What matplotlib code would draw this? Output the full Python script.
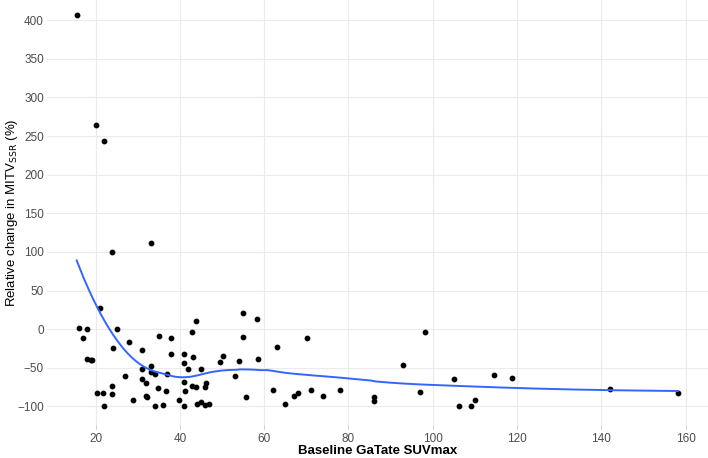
import numpy as np
import matplotlib.pyplot as plt

# Datos
suvmax = [15.5, 20, 22.1, 33.1, 24, 16, 17.1, 18, 18, 19.0, 19.2, 21.0, 25, 24.2,
          20.4, 21.8, 22, 24, 24, 27.9, 27, 28.8, 30.9, 30.9, 30.9, 31.9, 32, 32.2,
          33.05, 33.05, 34, 34.2, 35, 34.9, 35.9, 36.8, 36.9, 38, 37.9, 39.9, 41.0,
          40.9, 41.9, 40.9, 41.3, 41.0, 42.8, 43.9, 43, 42.8, 43.9, 44, 44.9, 44.9,
          45.9, 45.9, 46.3, 46.8, 49.5, 50.2, 53.1, 54, 55.0, 55.0, 55.6, 58.4, 58.5,
          62, 63.1, 65, 67.1, 68, 70.1, 71, 74, 78, 86, 86, 93, 97, 98.1, 105, 106.3,
          109, 110.1, 114.5, 118.9, 142, 158.2]
cambio = [407, 264, 244, 111, 100, 2, -12, 0, -39, -40, -40, 27, 0, -24,
          -82, -82, -99, -74, -84, -17, -61, -92, -27, -51, -64, -70, -86, -88,
          -47, -55, -58, -99, -9, -76, -98, -80, -58, -12, -32, -92, -32,
          -44, -52, -68, -80, -99, -3, 11, -36, -74, -75, -97, -52, -94,
          -98, -75, -70, -97, -43, -35, -60, -41, 21, -10, -88, 13, -38,
          -79, -23, -97, -86, -83, -12, -79, -87, -79, -88, -93, -46, -81, -4, -64, -99,
          -99, -92, -59, -63, -77, -83]

x = np.array(suvmax, dtype=float)
y = np.array(cambio, dtype=float)


# LOESS (span 0.75, grado 2) como geom_smooth
def loess(x, y, xs, span=0.75):
    n = len(x)
    k = int(np.ceil(span * n))
    res = []
    for x0 in xs:
        d = np.abs(x - x0)
        h = np.sort(d)[k - 1]
        w = (1 - np.clip(d / h, 0, 1) ** 3) ** 3
        X = np.vstack([np.ones(n), x - x0, (x - x0) ** 2]).T
        W = np.diag(w)
        beta = np.linalg.solve(X.T @ W @ X, X.T @ W @ y)
        res.append(beta[0])
    return np.array(res)


xs = np.linspace(x.min(), x.max(), 200)
ys = loess(x, y, xs)

plt.rcParams['font.family'] = ['Liberation Sans', 'DejaVu Sans']
fig = plt.figure(figsize=(7.08, 4.58), dpi=100)
ax = fig.add_axes([0.066, 0.072, 0.934, 0.928])

ax.scatter(x, y, s=10, color='black', zorder=3)
ax.plot(xs, ys, color='#3366FF', linewidth=1.4, zorder=4)

ax.set_xlim(8.4, 165.3)
ax.set_ylim(-124, 426)
ax.set_xticks(np.arange(20, 161, 20))
ax.set_yticks(np.arange(-100, 401, 50))
ax.grid(True, color='#ebebeb', linewidth=0.8)
ax.set_axisbelow(True)
for s in ax.spines.values():
    s.set_visible(False)
ax.tick_params(axis='x', colors='#4d4d4d', labelsize=8.5, length=3, color='#cccccc', pad=3)
ax.tick_params(axis='y', colors='#4d4d4d', labelsize=8.5, length=0, pad=2)

ax.set_xlabel('Baseline GaTate SUVmax', fontsize=9.5, fontweight='bold', va='center')
ax.set_ylabel(r'Relative change in MITV$_{\mathrm{SSR}}$ (%)', fontsize=9.5, va='center')
ax.xaxis.set_label_coords(0.5, -0.062)
ax.yaxis.set_label_coords(-0.052, 0.5)

plt.savefig('out.png', dpi=100)
